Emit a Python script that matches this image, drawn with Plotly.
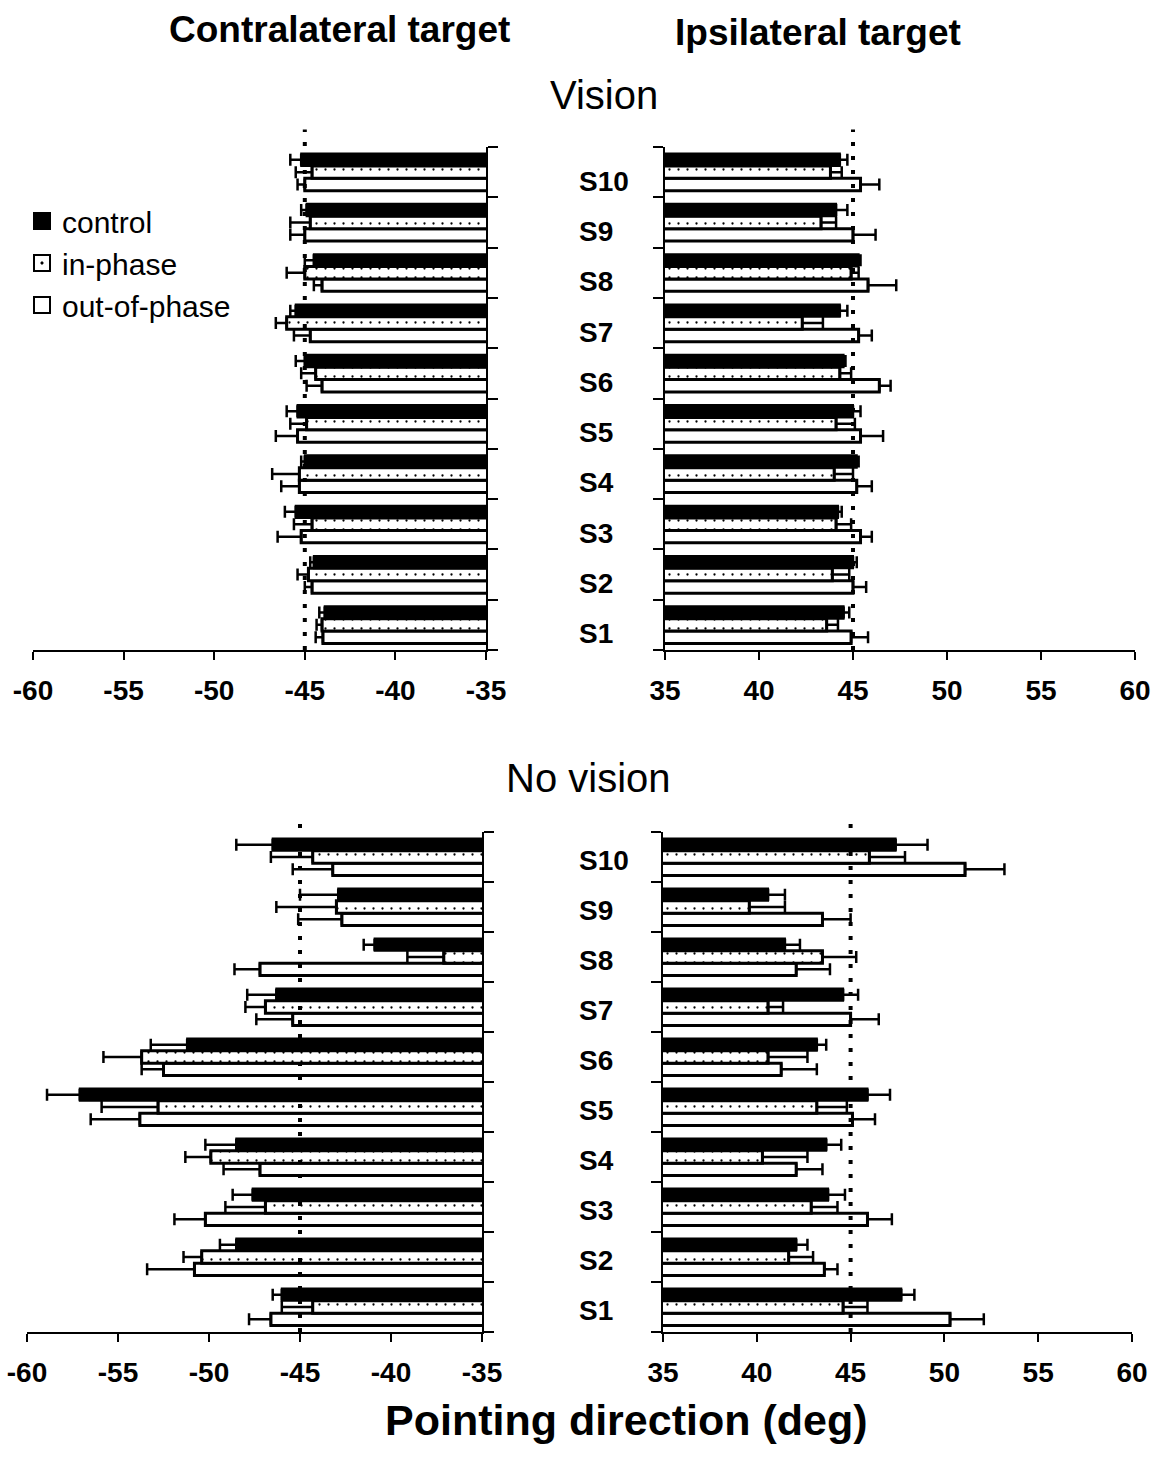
import plotly.graph_objects as go

# ---------------- data (deg), ordered S1 .. S10 ----------------
subjects = ["S1", "S2", "S3", "S4", "S5", "S6", "S7", "S8", "S9", "S10"]
subj_pos = [1, 2, 3, 4, 5, 6, 7, 8, 9, 10]

# Vision - contralateral target
vis_con_control = [-43.9, -44.5, -45.5, -45.0, -45.4, -45.0, -45.5, -44.5, -44.9, -45.2]
vis_con_control_err = [0.3, 0.2, 0.6, 0.2, 0.6, 0.5, 0.3, 0.5, 0.3, 0.6]
vis_con_inphase = [-44.05, -44.8, -44.6, -45.3, -44.9, -44.4, -46.0, -45.0, -44.7, -44.6]
vis_con_inphase_err = [0.3, 0.6, 1.0, 1.5, 0.9, 0.8, 0.6, 1.0, 1.1, 0.9]
vis_con_outphase = [-44.0, -44.6, -45.2, -45.3, -45.4, -44.05, -44.7, -44.05, -45.0, -45.0]
vis_con_outphase_err = [0.4, 0.4, 1.3, 1.0, 1.2, 0.85, 0.9, 0.45, 0.8, 0.4]

# Vision - ipsilateral target
vis_ips_control = [44.5, 45.0, 44.2, 45.2, 45.0, 44.5, 44.3, 45.3, 44.1, 44.3]
vis_ips_control_err = [0.3, 0.2, 0.2, 0.1, 0.4, 0.1, 0.4, 0.1, 0.6, 0.4]
vis_ips_inphase = [43.6, 43.9, 44.1, 44.0, 44.1, 44.3, 42.3, 44.9, 43.3, 43.8]
vis_ips_inphase_err = [0.6, 0.9, 0.8, 1.0, 1.0, 0.6, 1.1, 0.4, 0.8, 0.6]
vis_ips_outphase = [44.9, 45.0, 45.4, 45.2, 45.4, 46.4, 45.3, 45.8, 45.0, 45.4]
vis_ips_outphase_err = [0.9, 0.7, 0.6, 0.8, 1.2, 0.6, 0.7, 1.5, 1.2, 1.0]

# No vision - contralateral target
nov_con_control = [-46.0, -48.5, -47.6, -48.5, -57.1, -51.2, -46.3, -40.9, -42.9, -46.5]
nov_con_control_err = [0.5, 0.9, 1.1, 1.7, 1.8, 2.0, 1.6, 0.6, 2.1, 2.0]
nov_con_inphase = [-44.3, -50.4, -46.9, -49.9, -52.8, -53.7, -46.9, -37.1, -43.0, -44.3]
nov_con_inphase_err = [1.7, 1.0, 2.2, 1.4, 3.1, 2.1, 1.1, 2.0, 3.3, 2.3]
nov_con_outphase = [-46.6, -50.8, -50.2, -47.2, -53.8, -52.5, -45.4, -47.2, -42.7, -43.2]
nov_con_outphase_err = [1.2, 2.6, 1.7, 2.0, 2.7, 1.2, 2.0, 1.4, 2.4, 2.2]

# No vision - ipsilateral target
nov_ips_control = [47.7, 42.1, 43.8, 43.7, 45.9, 43.2, 44.6, 41.5, 40.6, 47.4]
nov_ips_control_err = [0.7, 0.6, 0.9, 0.8, 1.2, 0.5, 0.8, 0.8, 0.9, 1.7]
nov_ips_inphase = [44.6, 41.7, 42.9, 40.3, 43.2, 40.6, 40.6, 43.5, 39.6, 46.0]
nov_ips_inphase_err = [1.3, 1.3, 1.4, 2.4, 1.6, 2.1, 0.8, 1.8, 1.9, 1.9]
nov_ips_outphase = [50.3, 43.6, 45.9, 42.1, 45.1, 41.3, 45.0, 42.1, 43.5, 51.1]
nov_ips_outphase_err = [1.8, 0.7, 1.3, 1.4, 1.2, 1.9, 1.5, 1.8, 1.5, 2.1]

contra_ticks = [-60, -55, -50, -45, -40, -35]
ipsi_ticks = [35, 40, 45, 50, 55, 60]
target_contra = -45
target_ipsi = 45

# ---------------- layout helpers ----------------
W, H = 1162, 1463
FONT = "Liberation Sans, Arial, Helvetica, sans-serif"


def px(x):
    return x / W


def py(y):
    return 1 - y / H


panels = [
    dict(xa="x", ya="y", side="contra",
         xdom=[px(33), px(486)], ydom=[py(650), py(147)],
         data=[(vis_con_control, vis_con_control_err),
               (vis_con_inphase, vis_con_inphase_err),
               (vis_con_outphase, vis_con_outphase_err)]),
    dict(xa="x2", ya="y2", side="ipsi",
         xdom=[px(665), px(1135)], ydom=[py(650), py(147)],
         data=[(vis_ips_control, vis_ips_control_err),
               (vis_ips_inphase, vis_ips_inphase_err),
               (vis_ips_outphase, vis_ips_outphase_err)]),
    dict(xa="x3", ya="y3", side="contra",
         xdom=[px(27), px(482)], ydom=[py(1332), py(832)],
         data=[(nov_con_control, nov_con_control_err),
               (nov_con_inphase, nov_con_inphase_err),
               (nov_con_outphase, nov_con_outphase_err)]),
    dict(xa="x4", ya="y4", side="ipsi",
         xdom=[px(663), px(1132)], ydom=[py(1332), py(832)],
         data=[(nov_ips_control, nov_ips_control_err),
               (nov_ips_inphase, nov_ips_inphase_err),
               (nov_ips_outphase, nov_ips_outphase_err)]),
]

cond_names = ["control", "in-phase", "out-of-phase"]
cond_style = [
    dict(color="black", line=dict(color="black", width=2)),
    dict(color="white", line=dict(color="black", width=3),
         pattern=dict(shape=".", fgcolor="black", bgcolor="white", size=9, solidity=0.05)),
    dict(color="white", line=dict(color="black", width=3)),
]
legend_symbols = ["square", "square-open-dot", "square-open"]

fig = go.Figure()
layout = {}

for p in panels:
    # added bottom-to-top: out-of-phase, in-phase, control (control on top of each group)
    for k in [2, 1, 0]:
        vals, errs = p["data"][k]
        zeros = [0] * len(errs)
        if p["side"] == "contra":
            err = dict(type="data", symmetric=False, array=zeros, arrayminus=errs,
                       color="black", thickness=2.5, width=6)
        else:
            err = dict(type="data", symmetric=False, array=errs, arrayminus=zeros,
                       color="black", thickness=2.5, width=6)
        fig.add_trace(go.Bar(
            x=vals, y=subj_pos, orientation="h", name=cond_names[k],
            marker=cond_style[k], error_x=err,
            xaxis=p["xa"], yaxis=p["ya"], showlegend=False,
        ))

    xkey = "xaxis" + p["xa"][1:]
    ykey = "yaxis" + p["ya"][1:]
    ticks = contra_ticks if p["side"] == "contra" else ipsi_ticks
    layout[xkey] = dict(
        domain=p["xdom"], anchor=p["ya"], range=[ticks[0], ticks[-1]],
        tickmode="array", tickvals=ticks, ticktext=[str(t) for t in ticks],
        showline=True, linecolor="black", linewidth=2,
        ticks="outside", ticklen=8, tickwidth=2, tickcolor="black",
        ticklabelstandoff=6,
        tickfont=dict(family=FONT, size=28, color="black", weight="bold"),
        showgrid=False, zeroline=False, fixedrange=True, automargin=False,
    )
    layout[ykey] = dict(
        domain=p["ydom"], anchor=p["xa"], range=[0.5, 10.5],
        side="right" if p["side"] == "contra" else "left",
        tickmode="array", tickvals=[i + 0.5 for i in range(0, 11)],
        showticklabels=False,
        showline=True, linecolor="black", linewidth=2,
        ticks="outside", ticklen=10, tickwidth=2, tickcolor="black",
        showgrid=False, zeroline=False, fixedrange=True, automargin=False,
    )

# legend entries (one per condition)
for k in range(3):
    fig.add_trace(go.Scatter(
        x=[None], y=[None], mode="markers", name=cond_names[k],
        marker=dict(symbol=legend_symbols[k], size=16, color="black",
                    line=dict(color="black", width=2)),
        xaxis="x", yaxis="y", showlegend=True, legendrank=k + 1,
    ))

shapes = []
for p in panels:
    xv = target_contra if p["side"] == "contra" else target_ipsi
    shapes.append(dict(type="line", xref=p["xa"], yref=p["ya"] + " domain",
                       x0=xv, x1=xv, y0=0, y1=1.035, layer="above",
                       line=dict(color="black", width=4, dash="4px,10px")))

annotations = []


def txt(text, x, y, size, bold=False, xanchor="center", yanchor="middle"):
    annotations.append(dict(
        text=text, x=px(x), y=py(y), xref="paper", yref="paper",
        xanchor=xanchor, yanchor=yanchor, showarrow=False,
        font=dict(family=FONT, size=size, color="black",
                  weight="bold" if bold else "normal")))


txt("Contralateral target", 339, 30, 37, bold=True)
txt("Ipsilateral target", 818, 32, 37, bold=True)
txt("Vision", 604, 95, 40)
txt("No vision", 588, 778, 40)
txt("Pointing direction (deg)", 626, 1420, 43, bold=True)

# subject labels between the panels
for p, ysh in [(panels[1], -9), (panels[3], -3)]:
    for s, pos in zip(subjects, subj_pos):
        annotations.append(dict(
            text=s, x=px(577), y=pos, xref="paper", yref=p["ya"],
            xanchor="left", yanchor="middle", yshift=ysh, showarrow=False,
            font=dict(family=FONT, size=28, color="black", weight="bold")))

fig.update_layout(
    template="none",
    width=W, height=H, margin=dict(l=0, r=0, t=0, b=0, autoexpand=False),
    paper_bgcolor="white", plot_bgcolor="white",
    barmode="group", bargap=0.26, bargroupgap=0,
    showlegend=True,
    legend=dict(x=px(22), y=py(195), xanchor="left", yanchor="top",
                traceorder="normal", itemsizing="trace",
                font=dict(family=FONT, size=30, color="black"),
                bgcolor="rgba(0,0,0,0)", borderwidth=0, itemwidth=30),
    shapes=shapes, annotations=annotations,
    **layout,
)

fig.write_html("out.html")
